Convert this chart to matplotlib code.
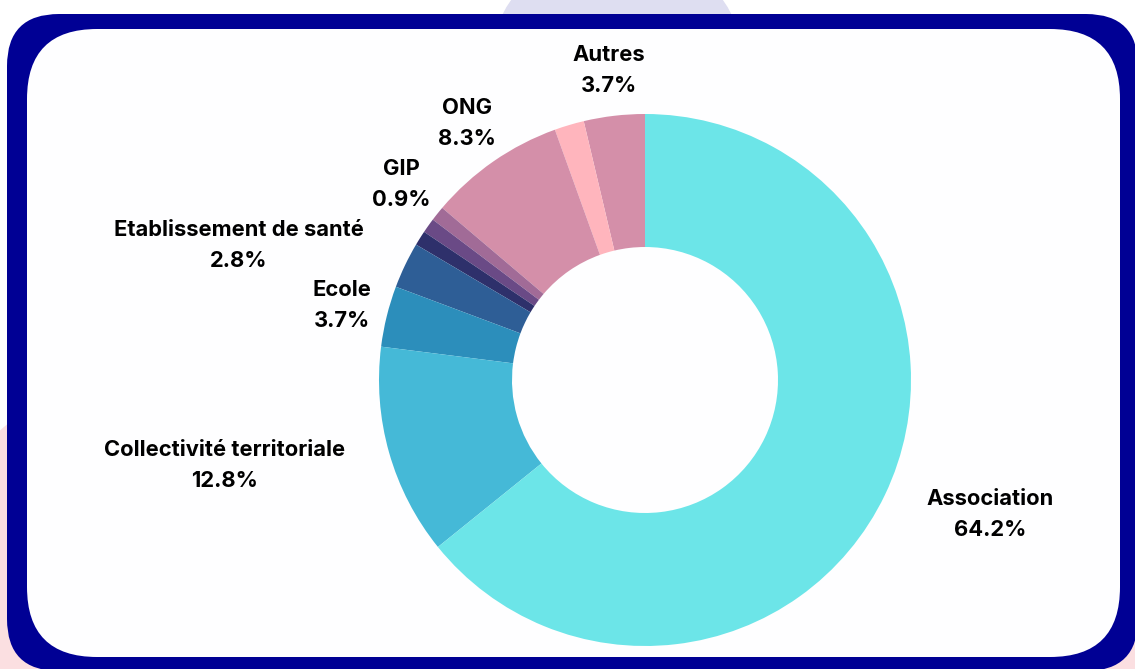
import matplotlib
matplotlib.use("Agg")
import matplotlib.pyplot as plt
from matplotlib.patches import FancyBboxPatch, Circle
import numpy as np

# ---- data (counter-clockwise from 12 o'clock) ----
categories = ["Autres", "", "ONG", "GIP", "", "",
              "Etablissement de santé", "Ecole",
              "Collectivité territoriale", "Association"]
values = [3.7, 1.8, 8.3, 0.9, 0.9, 0.9, 2.8, 3.7, 12.8, 64.2]
colors = ["#D48FA9", "#FFB5BD", "#D48FA9", "#A16B97", "#6A4A86",
          "#2E306B", "#2E5E96", "#2C8EBB", "#45B9D7", "#6CE5E8"]

W, H = 1135, 669
fig = plt.figure(figsize=(W / 100, H / 100), dpi=100)
ax = fig.add_axes([0, 0, 1, 1])
fig.patch.set_facecolor("white")

def py(y):  # pixel-from-top -> data y
    return H - y

# background decorations
ax.add_patch(Circle((617, py(73)), 128, color="#DEDEF1", zorder=0))
ax.add_patch(Circle((200, py(655)), 300, color="#FBDFE1", zorder=0))
ax.add_patch(Circle((1200, py(750)), 130, color="#FBDFE1", zorder=0))

# frame
outer = FancyBboxPatch((7, py(671)), 1131, 671 - 14,
                       boxstyle="round,pad=0,rounding_size=52",
                       facecolor="#000094", edgecolor="none", zorder=1)
inner = FancyBboxPatch((27, py(657)), 1120 - 27, 657 - 29,
                       boxstyle="round,pad=0,rounding_size=70",
                       facecolor="#FEFEFF", edgecolor="none", zorder=2)
ax.add_patch(outer)
ax.add_patch(inner)

cx, cy, R = 645, py(380), 266
wedges, _ = ax.pie(values, colors=colors, startangle=90, counterclock=True,
                   radius=R, center=(cx, cy),
                   wedgeprops=dict(width=R * 0.5, edgecolor="none", zorder=3))
for w in wedges:
    w.set_zorder(3)

ax.set_xlim(0, W)
ax.set_ylim(0, H)
ax.set_aspect("equal")
ax.axis("off")

fig.canvas.draw()
renderer = fig.canvas.get_renderer()
inv = ax.transData.inverted()

def overlaps_disc(bb):
    x0, y0 = inv.transform((bb.x0, bb.y0))
    x1, y1 = inv.transform((bb.x1, bb.y1))
    nx = min(max(cx, x0), x1)
    ny = min(max(cy, y0), y1)
    return np.hypot(nx - cx, ny - cy) < R

label_r = R * 1.173
for w, name, v in zip(wedges, categories, values):
    if not name:
        continue
    ang = np.deg2rad((w.theta1 + w.theta2) / 2)
    x = cx + label_r * np.cos(ang)
    y = cy + label_r * np.sin(ang)
    t = ax.text(x, y, f"{name}\n{v:.1f}%", ha="center", va="center",
                multialignment="center", fontsize=15.8, fontweight="bold",
                family=["Inter", "DejaVu Sans"], color="#000000",
                linespacing=1.68, zorder=5)
    bb = t.get_window_extent(renderer)
    if overlaps_disc(bb):
        t.set_ha("right" if x < cx else "left")

fig.savefig("out.png", dpi=100)
